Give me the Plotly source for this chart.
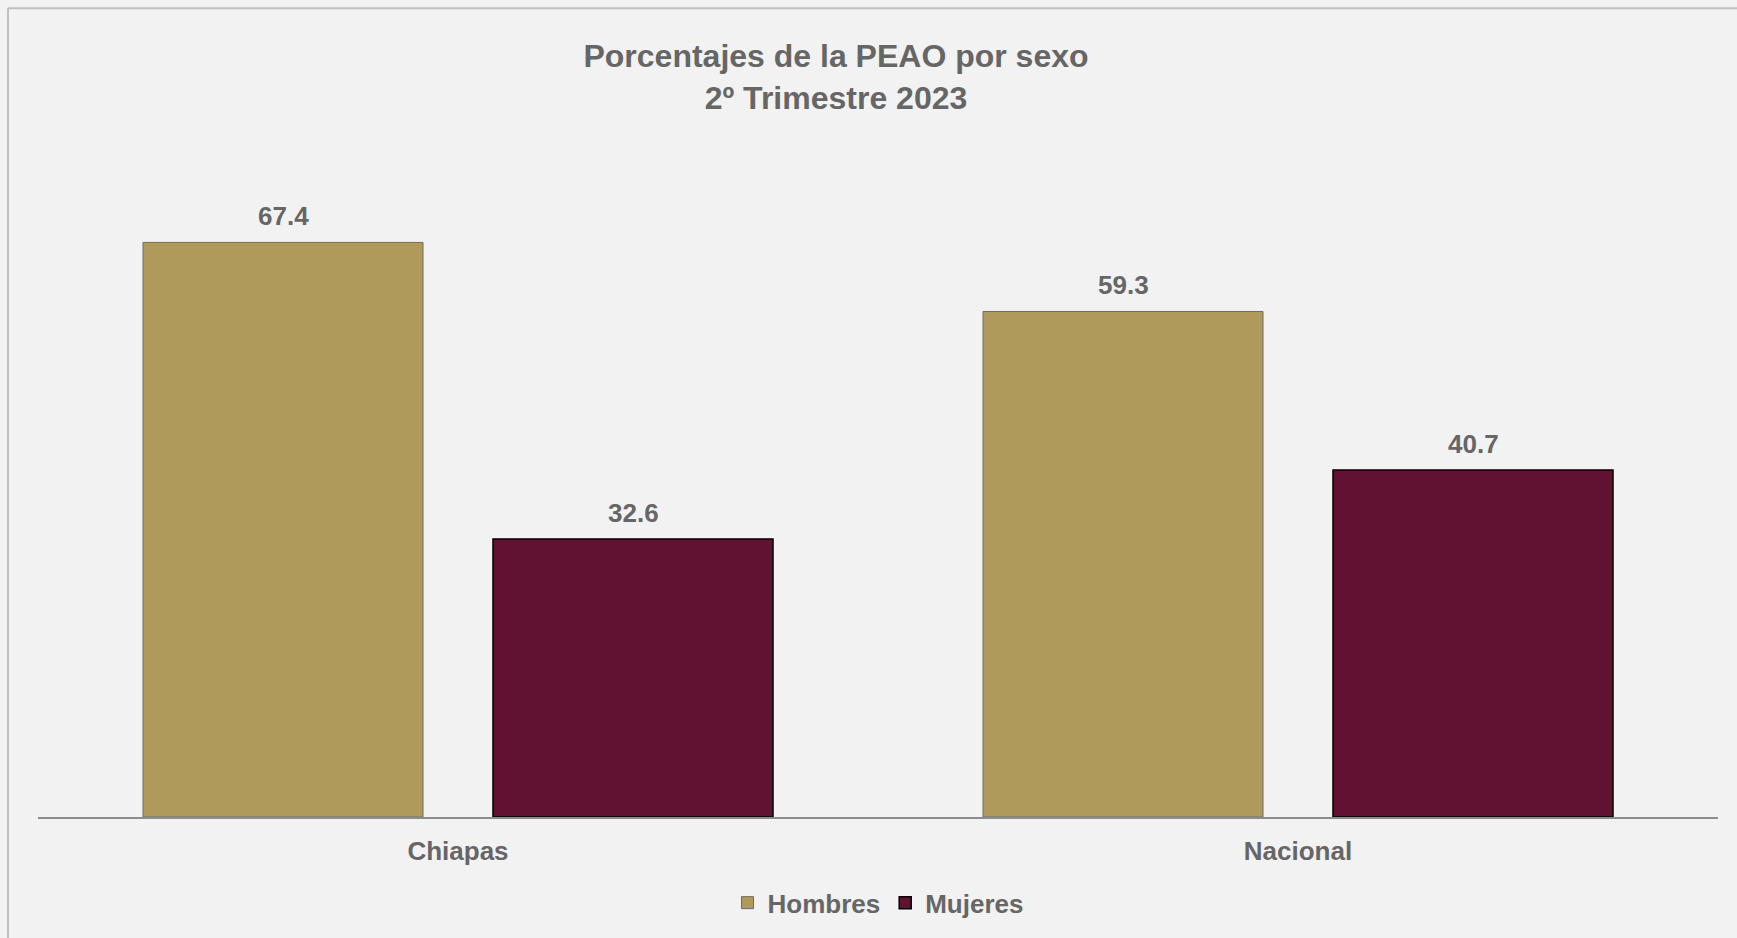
import plotly.graph_objects as go

categories = ["Chiapas", "Nacional"]
series_names = ["Hombres", "Mujeres"]
hombres = [67.4, 59.3]
mujeres = [32.6, 40.7]
title_lines = ["Porcentajes de la PEAO por sexo", "2º Trimestre 2023"]

FONT = "Liberation Sans, Arial, sans-serif"
TXT = "#666666"
BG = "#f2f2f2"
C_H = "#b09a5b"
C_M = "#611232"

W, H = 1737, 938
ML, MR, MT, MB = 38, 19, 135, 119
PW = W - ML - MR
PH = H - MT - MB

bar_w = 1 / 3
off_h = -0.375
off_m = 0.375 - bar_w

fig = go.Figure()
fig.add_trace(go.Bar(
    name=series_names[0], x=categories, y=hombres,
    width=bar_w, offset=off_h,
    marker=dict(color=C_H, line=dict(color="#6b6b6b", width=1)),
))
fig.add_trace(go.Bar(
    name=series_names[1], x=categories, y=mujeres,
    width=bar_w, offset=off_m,
    marker=dict(color=C_M, line=dict(color="#000000", width=1.5)),
))

cat_px = PW / len(categories)
annotations = []
for vals, off in ((hombres, off_h), (mujeres, off_m)):
    shift = (off + bar_w / 2) * cat_px
    for c, v in zip(categories, vals):
        annotations.append(dict(
            x=c, y=v, xref="x", yref="y", text=f"{v:.1f}", showarrow=False,
            xshift=shift, yshift=26, yanchor="middle",
            font=dict(family=FONT, size=26, color=TXT, weight="bold"),
        ))

def px2x(p):
    return (p - ML) / PW

def py2y(p):
    return (H - MB - p) / PH

shapes = [
    dict(type="line", xref="paper", yref="paper",
         x0=px2x(8), x1=px2x(1760), y0=py2y(8), y1=py2y(8),
         line=dict(color="#bfbfbf", width=2)),
    dict(type="line", xref="paper", yref="paper",
         x0=px2x(8), x1=px2x(8), y0=py2y(8), y1=py2y(960),
         line=dict(color="#bfbfbf", width=2)),
]

fig.update_layout(
    width=W, height=H,
    margin=dict(l=ML, r=MR, t=MT, b=MB),
    paper_bgcolor=BG, plot_bgcolor=BG,
    barmode="overlay",
    title=dict(
        text="<br>".join(title_lines),
        x=836 / W, xanchor="center",
        y=1 - 67 / H, yanchor="middle", yref="container",
        font=dict(family=FONT, size=32, color=TXT, weight="bold"),
    ),
    xaxis=dict(
        showline=True, linecolor="#8c8c8c", linewidth=2,
        showgrid=False, ticks="", ticklabelstandoff=10,
        tickfont=dict(family=FONT, size=26, color=TXT, weight="bold"),
    ),
    yaxis=dict(range=[0, 80], visible=False, showgrid=False),
    showlegend=True,
    legend=dict(
        orientation="h", x=0.5, xanchor="center", y=py2y(905), yanchor="middle",
        font=dict(family=FONT, size=26, color=TXT, weight="bold"),
        bgcolor="rgba(0,0,0,0)", itemwidth=30,
    ),
    annotations=annotations,
    shapes=shapes,
)

fig.write_html("out.html", config={"displayModeBar": False},
               post_script="document.body.style.margin='0';")
